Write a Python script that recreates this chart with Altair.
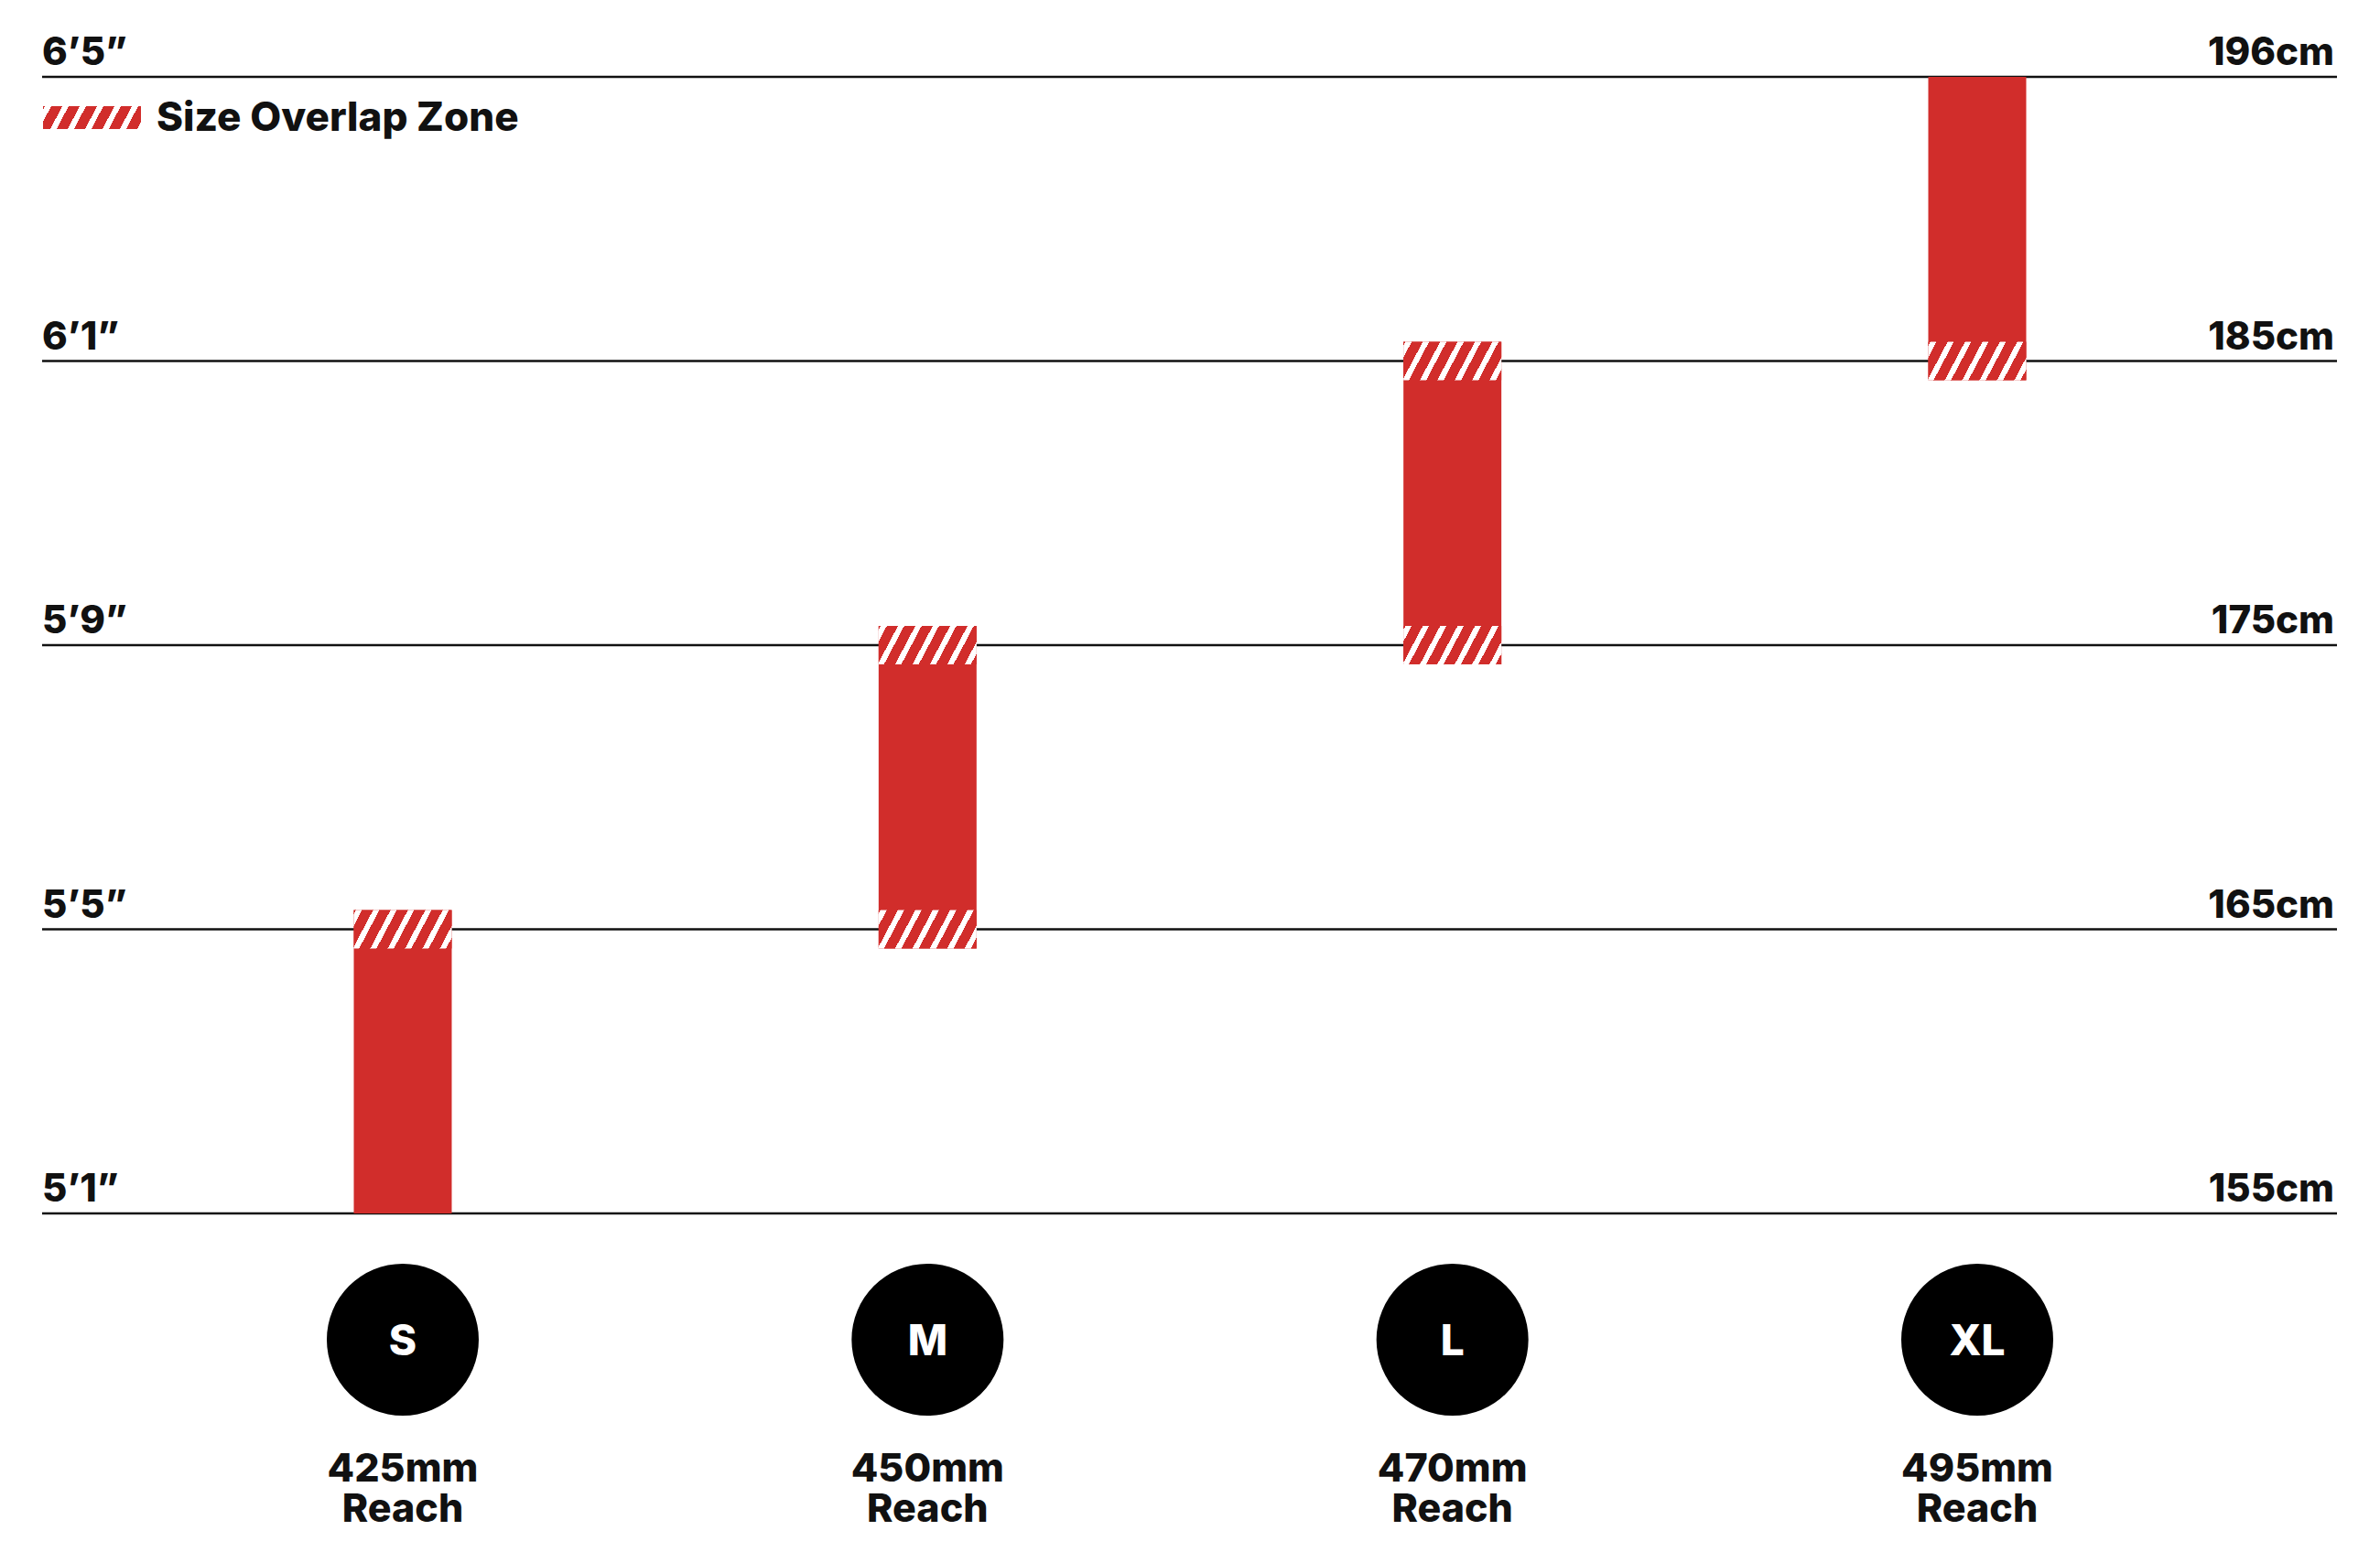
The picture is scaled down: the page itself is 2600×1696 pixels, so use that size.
import math
import altair as alt
import pandas as pd

# ---------------- data ----------------
sizes = ["S", "M", "L", "XL"]
reach_mm = [425, 450, 470, 495]
# rider height ranges in inches (5'1" = 61in ... 6'5" = 77in)
bar_low_in = [61.0, 64.73, 68.73, 72.73]
bar_high_in = [65.27, 69.27, 73.27, 77.0]
# overlap zones between neighbouring sizes (S/M, M/L, L/XL)
overlap_low_in = [64.73, 68.73, 72.73]
overlap_high_in = [65.27, 69.27, 73.27]
tick_in = [61, 65, 69, 73, 77]
tick_ft = ["5\u20191\u201d", "5\u20195\u201d", "5\u20199\u201d", "6\u20191\u201d", "6\u20195\u201d"]
tick_cm = ["155cm", "165cm", "175cm", "185cm", "196cm"]
legend_label = ["Size Overlap Zone"]
reach_word = "Reach"

# ---------------- styling ----------------
RED = "#D12D2B"
WHITE = "#FFFFFF"
INK = "#111111"
FONT = "Inter"
WEIGHT = 800

W_VIEW, H_VIEW = 2584, 1676


def hatch(W, H, s=1.9, P=19.0, f=0.36, phase=4.0):
    """Linear gradient with hard stops that imitates '/' hatching."""
    T = s * W + H
    per = s * P
    k = T / (s * s * W * W + H * H)
    gx, gy = k * s * W, k * H
    stops = [{"offset": 0.0, "color": RED}]
    m = -2
    while True:
        ws = phase + m * per
        we = ws + f * per
        m += 1
        if ws > T:
            break
        if we < 0:
            continue
        a = max(ws, 0.0) / T
        b = min(we, T) / T
        stops += [
            {"offset": a, "color": RED},
            {"offset": a, "color": WHITE},
            {"offset": b, "color": WHITE},
            {"offset": b, "color": RED},
        ]
    stops.append({"offset": 1.0, "color": RED})
    return {"gradient": "linear", "x1": 0, "y1": 0, "x2": gx, "y2": gy, "stops": stops}


# ---------------- tables ----------------
bars = pd.DataFrame({"size": sizes, "lo": bar_low_in, "hi": bar_high_in, "reach": reach_mm})
bars["reach_label"] = [f"{r}mm" for r in reach_mm]
bars["reach_word"] = reach_word

zone_rows = []
for i in range(len(overlap_low_in)):
    for sz in (sizes[i], sizes[i + 1]):
        zone_rows.append({"size": sz, "lo": overlap_low_in[i], "hi": overlap_high_in[i]})
zones = pd.DataFrame(zone_rows)

ticks = pd.DataFrame({"inch": tick_in, "ft": tick_ft, "cm": tick_cm})
legend = pd.DataFrame({"label": legend_label})

# ---------------- scales ----------------
x_scale = alt.Scale(domain=sizes, range=[378.5, 2205.5], paddingInner=0.8134,
                    paddingOuter=0, round=False)
y_scale = alt.Scale(domain=[61, 77], range=[1318, 76], zero=False, nice=False)

X = alt.X("size:N", scale=x_scale, axis=None)

rules = alt.Chart(ticks).mark_rule(color=INK, strokeWidth=2.6).encode(
    y=alt.Y("inch:Q", scale=y_scale, axis=None),
    x=alt.value(38), x2=alt.value(2545),
)

solid = alt.Chart(bars).mark_bar(color=RED, opacity=1).encode(
    x=X,
    y=alt.Y("lo:Q", scale=y_scale, axis=None),
    y2="hi:Q",
)

hatched = alt.Chart(zones).mark_bar(color=hatch(107, 42), opacity=1).encode(
    x=X,
    y=alt.Y("lo:Q", scale=y_scale, axis=None),
    y2="hi:Q",
)

circles = alt.Chart(bars).mark_circle(size=166 * 166, color="#000000", opacity=1).encode(
    x=X, y=alt.value(1456),
)

circle_text = alt.Chart(bars).mark_text(
    font=FONT, fontSize=46, fontWeight=WEIGHT, color=WHITE, baseline="alphabetic", align="center"
).encode(x=X, y=alt.value(1473), text="size:N")

reach_text = alt.Chart(bars).mark_text(
    font=FONT, fontSize=43, fontWeight=WEIGHT, color=INK, baseline="alphabetic", align="center"
).encode(x=X, y=alt.value(1611), text="reach_label:N")

reach_word_text = alt.Chart(bars).mark_text(
    font=FONT, fontSize=43, fontWeight=WEIGHT, color=INK, baseline="alphabetic", align="center"
).encode(x=X, y=alt.value(1655), text="reach_word:N")

left_labels = alt.Chart(ticks).mark_text(
    font=FONT, fontSize=42, fontWeight=WEIGHT, color=INK, baseline="alphabetic", align="left", dy=-13
).encode(y=alt.Y("inch:Q", scale=y_scale, axis=None), x=alt.value(38), text="ft:N")

right_labels = alt.Chart(ticks).mark_text(
    font=FONT, fontSize=42, fontWeight=WEIGHT, color=INK, baseline="alphabetic", align="right", dy=-13
).encode(y=alt.Y("inch:Q", scale=y_scale, axis=None), x=alt.value(2542), text="cm:N")

legend_swatch = alt.Chart(legend).mark_rect(color=hatch(107, 25), opacity=1).encode(
    x=alt.value(39), x2=alt.value(146), y=alt.value(108), y2=alt.value(133)
)
legend_text = alt.Chart(legend).mark_text(
    font=FONT, fontSize=44, fontWeight=WEIGHT, color=INK, baseline="alphabetic", align="left"
).encode(x=alt.value(163), y=alt.value(135), text="label:N")

chart = alt.layer(
    rules, solid, hatched, circles, circle_text, reach_text, reach_word_text,
    left_labels, right_labels, legend_swatch, legend_text,
).properties(
    width=W_VIEW, height=H_VIEW,
    autosize=alt.AutoSizeParams(type="none"), padding=0,
).configure_view(stroke=None)

chart.save("out.html", embed_options={"renderer": "svg", "actions": False})
